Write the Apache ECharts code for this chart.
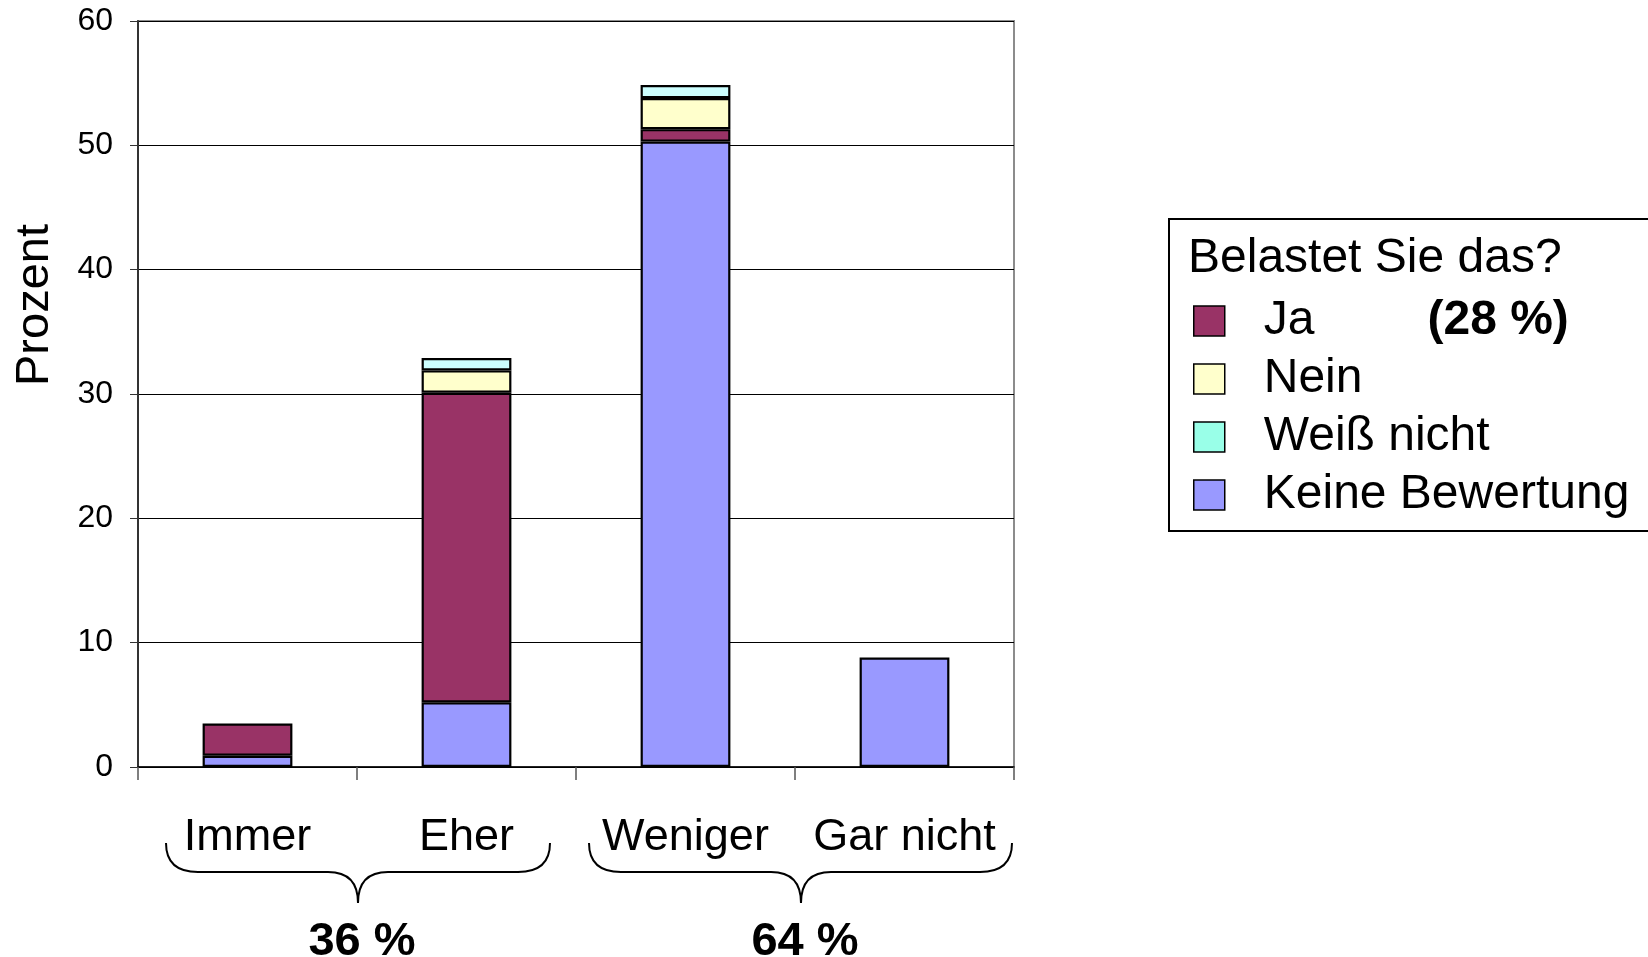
<!DOCTYPE html>
<html>
<head>
<meta charset="utf-8">
<script src="https://cdn.jsdelivr.net/npm/echarts@6/dist/echarts.min.js"></script>
<style>
html,body{margin:0;padding:0;background:#fff;}
#c{width:1648px;height:957px;}
</style>
</head>
<body>
<div id="c"></div>
<script>
const categories = ['Immer', 'Eher', 'Weniger', 'Gar nicht'];
const keineBewertung = [0.9, 5.2, 50.3, 8.8];
const ja = [2.6, 24.9, 1.0, null];
const nein = [null, 1.8, 2.5, null];
const weissNicht = [null, 1.0, 1.05, null];
const yTicks = [0, 10, 20, 30, 40, 50, 60];
const groupLabels = ['36 %', '64 %'];
const legendTitle = 'Belastet Sie das?';
const jaShare = '(28 %)';

const FONT = "'Liberation Sans', Arial, Helvetica, sans-serif";
const chart = echarts.init(document.getElementById('c'), null, {renderer: 'canvas'});

function bar(name, data, color) {
  return {
    name: name, type: 'bar', stack: 'total', data: data,
    barWidth: '41%',
    itemStyle: {color: color, borderColor: '#000', borderWidth: 2.2},
    emphasis: {disabled: true}
  };
}

function brace(xL, xR, xM) {
  const yT = 843, yH = 872, yB = 903;
  const st = {stroke: '#000', lineWidth: 2, fill: null};
  const q = (x1, y1, cx, cy, x2, y2) => ({type: 'bezierCurve', shape: {x1: x1, y1: y1, cpx1: cx, cpy1: cy, x2: x2, y2: y2}, style: st});
  const l = (x1, y1, x2, y2) => ({type: 'line', shape: {x1: x1, y1: y1, x2: x2, y2: y2}, style: st});
  return {
    type: 'group',
    children: [
      q(xL, yT, xL, yH, xL + 32, yH),
      l(xL + 32, yH, xM - 30, yH),
      q(xM - 30, yH, xM, yH, xM, yB),
      q(xM, yB, xM, yH, xM + 30, yH),
      l(xM + 30, yH, xR - 32, yH),
      q(xR - 32, yH, xR, yH, xR, yT)
    ]
  };
}

const option = {
  animation: false,
  backgroundColor: '#fff',
  textStyle: {fontFamily: FONT},
  grid: {left: 138, top: 21, right: 634, bottom: 190, show: true, borderColor: '#8c8c8c', borderWidth: 2, backgroundColor: 'transparent'},
  xAxis: {
    type: 'category', data: categories, boundaryGap: true,
    axisLine: {show: true, lineStyle: {color: '#000', width: 1.5}},
    axisTick: {show: true, length: 13, alignWithLabel: false, lineStyle: {color: '#555', width: 1.5}},
    axisLabel: {fontSize: 45, color: '#000', margin: 48, fontFamily: FONT, interval: 0},
    splitLine: {show: false}
  },
  yAxis: {
    type: 'value', min: yTicks[0], max: yTicks[yTicks.length - 1], interval: 10,
    axisLine: {show: true, lineStyle: {color: '#333', width: 2}},
    axisTick: {show: true, length: 8, lineStyle: {color: '#333', width: 1}},
    axisLabel: {fontSize: 32, color: '#000', margin: 25, fontFamily: FONT},
    splitLine: {show: true, lineStyle: {color: '#000', width: 1}}
  },
  legend: {
    orient: 'vertical', left: 1169, top: 219,
    data: [
      {name: 'Ja'},
      {name: 'Nein'},
      {name: 'Weiß nicht', itemStyle: {color: '#99FFE8'}},
      {name: 'Keine Bewertung'}
    ],
    icon: 'rect', itemWidth: 31, itemHeight: 30, itemGap: 10,
    padding: [78, 60, 12, 24],
    borderColor: '#000', borderWidth: 2,
    itemStyle: {borderColor: '#000', borderWidth: 1.5},
    selectedMode: false,
    formatter: function (name) {
      if (name === 'Ja') return '{n|Ja}{b|' + jaShare + '}';
      return '{n|' + name + '}';
    },
    textStyle: {
      fontSize: 48, color: '#000', fontFamily: FONT,
      rich: {
        n: {fontSize: 48, color: '#000', fontFamily: FONT, padding: [0, 0, 0, 34], lineHeight: 52},
        b: {fontSize: 48, color: '#000', fontFamily: FONT, fontWeight: 'bold', padding: [0, 0, 0, 113], lineHeight: 52}
      }
    }
  },
  series: [
    bar('Keine Bewertung', keineBewertung, '#9999FF'),
    bar('Ja', ja, '#993366'),
    bar('Nein', nein, '#FFFFCC'),
    bar('Weiß nicht', weissNicht, '#CCFFFF')
  ],
  graphic: [
    {type: 'text', x: 1188, y: 259, style: {text: legendTitle, fontSize: 48, fontFamily: FONT, fill: '#000', textVerticalAlign: 'middle', textAlign: 'left'}},
    {type: 'text', x: 35, y: 305, rotation: Math.PI / 2, style: {text: 'Prozent', fontSize: 47, fontFamily: FONT, fill: '#000', textAlign: 'center', textVerticalAlign: 'middle'}},
    brace(166, 550, 358),
    brace(589, 1012, 801),
    {type: 'text', x: 362, y: 942, style: {text: groupLabels[0], fontSize: 47, fontWeight: 'bold', fontFamily: FONT, fill: '#000', textAlign: 'center', textVerticalAlign: 'middle'}},
    {type: 'text', x: 805, y: 942, style: {text: groupLabels[1], fontSize: 47, fontWeight: 'bold', fontFamily: FONT, fill: '#000', textAlign: 'center', textVerticalAlign: 'middle'}}
  ]
};
chart.setOption(option);
</script>
</body>
</html>
